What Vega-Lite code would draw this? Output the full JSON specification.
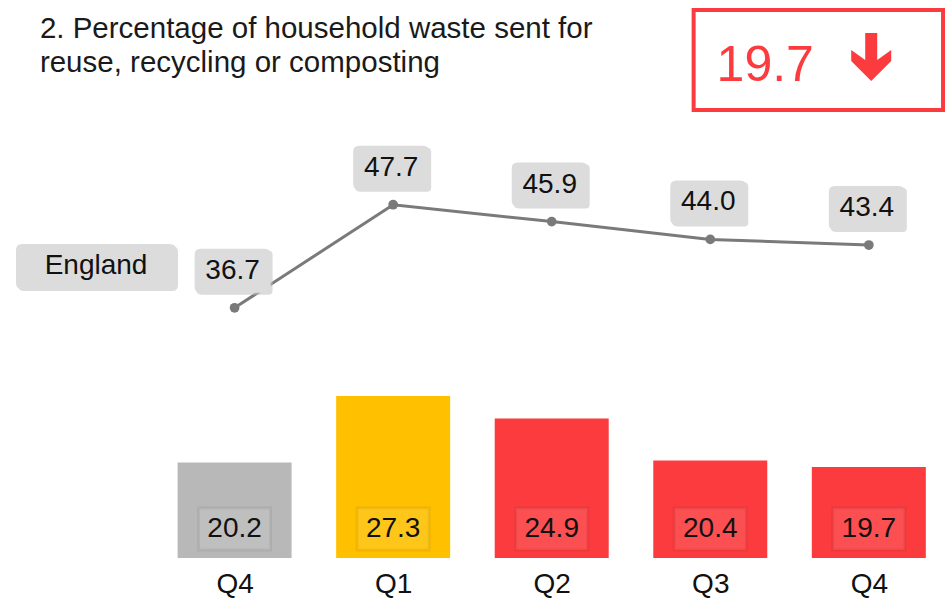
{
  "$schema": "https://vega.github.io/schema/vega-lite/v6.json",
  "width": 952,
  "height": 558,
  "autosize": {"type": "none"},
  "padding": {"left": 0, "top": 0, "right": 0, "bottom": 45},
  "background": "white",
  "config": {"view": {"stroke": null}, "font": "Liberation Sans"},
  "layer": [
    {
      "data": {"values": [
        {"idx": 0, "quarter": "Q4", "line": 36.7, "bar": 20.2, "status": "baseline"},
        {"idx": 1, "quarter": "Q1", "line": 47.7, "bar": 27.3, "status": "amber"},
        {"idx": 2, "quarter": "Q2", "line": 45.9, "bar": 24.9, "status": "red"},
        {"idx": 3, "quarter": "Q3", "line": 44.0, "bar": 20.4, "status": "red"},
        {"idx": 4, "quarter": "Q4", "line": 43.4, "bar": 19.7, "status": "red"}
      ]},
      "encoding": {
        "x": {"field": "idx", "type": "quantitative",
          "scale": {"domain": [-1.448, 4.493], "nice": false, "zero": false},
          "axis": {"values": [0, 1, 2, 3, 4], "labelExpr": "['Q4','Q1','Q2','Q3','Q4'][datum.value]",
            "domain": false, "ticks": false, "tickSize": 0, "grid": false, "title": null,
            "labelFontSize": 28, "labelColor": "#111", "labelPadding": 12, "labelFont": "Liberation Sans"}}
      },
      "layer": [
        {
          "mark": {"type": "bar", "width": 114},
          "encoding": {
            "y": {"field": "bar", "type": "quantitative", "scale": {"domain": [10, 69.55], "nice": false, "zero": false}, "axis": null},
            "y2": {"datum": 10},
            "color": {"field": "status", "type": "nominal",
              "scale": {"domain": ["baseline", "amber", "red"], "range": ["#b8b8b8", "#ffc000", "#fc3b3e"]},
              "legend": null}
          }
        },
        {
          "mark": {"type": "point", "shape": "M-36,-21H36V21H-36Z", "size": 4, "filled": true,
            "fill": "#ffffff", "fillOpacity": 0.1, "stroke": "#000000", "strokeOpacity": 0.06, "strokeWidth": 3, "opacity": 1},
          "encoding": {"y": {"datum": 13.09, "type": "quantitative"}}
        },
        {
          "mark": {"type": "text", "fontSize": 28, "baseline": "middle", "align": "center", "color": "#111"},
          "encoding": {"y": {"datum": 13.09, "type": "quantitative"}, "text": {"field": "bar", "type": "quantitative", "format": ".1f"}}
        },
        {
          "mark": {"type": "line", "color": "#7a7a7a", "strokeWidth": 3},
          "encoding": {"y": {"field": "line", "type": "quantitative"}}
        },
        {
          "mark": {"type": "point", "filled": true, "size": 95, "color": "#7a7a7a", "opacity": 1},
          "encoding": {"y": {"field": "line", "type": "quantitative"}}
        },
        {
          "mark": {"type": "point", "shape": "M-32,-57H34Q38,-57 38,-53V-17Q38,-13 34,-13H-32Q-38,-13 -38,-17V-53Q-38,-57 -32,-57Z",
            "size": 4, "filled": true, "fill": "#c4c4c4", "opacity": 0.6},
          "encoding": {"y": {"field": "line", "type": "quantitative"}}
        },
        {
          "mark": {"type": "point", "shape": "M-34,-59H30Q36,-59 36,-53V-21Q36,-15 30,-15H-34Q-40,-15 -40,-21V-53Q-40,-59 -34,-59Z",
            "size": 4, "filled": true, "fill": "#dcdcdc", "opacity": 1},
          "encoding": {"y": {"field": "line", "type": "quantitative"}}
        },
        {
          "mark": {"type": "text", "fontSize": 28, "baseline": "middle", "align": "center", "dy": -37, "dx": -2, "color": "#111"},
          "encoding": {"y": {"field": "line", "type": "quantitative"}, "text": {"field": "line", "type": "quantitative", "format": ".1f"}}
        }
      ]
    },
    {
      "data": {"values": [{"label": "England"}]},
      "encoding": {"x": {"datum": -0.874, "type": "quantitative"}, "y": {"datum": 41.16, "type": "quantitative"}},
      "layer": [
        {
          "mark": {"type": "point", "shape": "M-72,-20H76Q82,-20 82,-14V19Q82,25 76,25H-72Q-78,25 -78,19V-14Q-78,-20 -72,-20Z",
            "size": 4, "filled": true, "fill": "#c4c4c4", "opacity": 0.6}
        },
        {
          "mark": {"type": "point", "shape": "M-74,-22H74Q80,-22 80,-16V17Q80,23 74,23H-74Q-80,23 -80,17V-16Q-80,-22 -74,-22Z",
            "size": 4, "filled": true, "fill": "#dcdcdc", "opacity": 1}
        },
        {
          "mark": {"type": "text", "fontSize": 28, "baseline": "middle", "align": "center", "color": "#111"},
          "encoding": {"text": {"field": "label", "type": "nominal"}}
        }
      ]
    },
    {
      "data": {"values": [{"heading": "2. Percentage of household waste sent for\nreuse, recycling or composting"}]},
      "mark": {"type": "text", "fontSize": 29.5, "align": "left", "baseline": "alphabetic", "lineBreak": "\n", "lineHeight": 34, "color": "#1a1a1a"},
      "encoding": {"x": {"datum": -1.228, "type": "quantitative"}, "y": {"datum": 65.49, "type": "quantitative"},
        "text": {"field": "heading", "type": "nominal"}}
    },
    {
      "data": {"values": [{"kpi": 19.7}]},
      "layer": [
        {
          "mark": {"type": "rect", "fill": "white", "stroke": "#fc3b3e", "strokeWidth": 4},
          "encoding": {"x": {"datum": 2.895, "type": "quantitative"}, "x2": {"datum": 4.468},
            "y": {"datum": 68.48, "type": "quantitative"}, "y2": {"datum": 57.81}}
        },
        {
          "mark": {"type": "text", "fontSize": 50, "align": "left", "baseline": "alphabetic", "color": "#fc3b3e"},
          "encoding": {"x": {"datum": 3.04, "type": "quantitative"}, "y": {"datum": 60.9, "type": "quantitative"},
            "text": {"field": "kpi", "type": "quantitative", "format": ".1f"}}
        },
        {
          "mark": {"type": "point", "shape": "M-6,-24H6V3L20,-7V4L0,24L-20,4V-7L-6,3Z", "size": 4, "filled": true,
            "fill": "#fc3b3e", "opacity": 1},
          "encoding": {"x": {"datum": 4.015, "type": "quantitative"}, "y": {"datum": 63.47, "type": "quantitative"}}
        }
      ]
    }
  ]
}
